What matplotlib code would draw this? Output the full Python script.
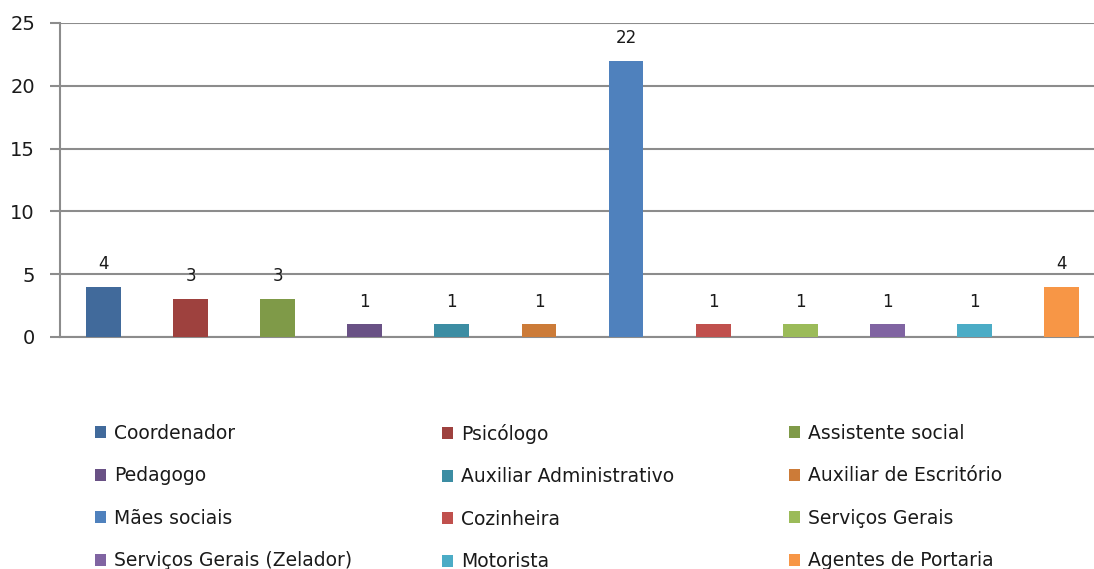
import matplotlib.pyplot as plt
from matplotlib.patches import Patch

# data
categories = ['Coordenador', 'Psicólogo', 'Assistente social', 'Pedagogo',
              'Auxiliar Administrativo', 'Auxiliar de Escritório', 'Mães sociais',
              'Cozinheira', 'Serviços Gerais', 'Serviços Gerais (Zelador)',
              'Motorista', 'Agentes de Portaria']
values = [4, 3, 3, 1, 1, 1, 22, 1, 1, 1, 1, 4]
colors = ['#416A9B', '#9E413E', '#7F9A48', '#695185', '#3C8DA3', '#CC7B38',
          '#4F81BD', '#C0504D', '#9BBB59', '#8064A2', '#4BACC6', '#F79646']
yticks = [0, 5, 10, 15, 20, 25]

plt.rcParams['font.family'] = ['DejaVu Sans']
txt = '#1a1a1a'
grid = '#8c8c8c'

fig = plt.figure(figsize=(10.94, 5.69), dpi=100)
ax = fig.add_axes([60 / 1094, 1 - 337 / 569, 1045 / 1094, 314 / 569])

x = list(range(len(values)))
ax.bar(x, values, width=0.4, color=colors, zorder=3)
for xi, v in zip(x, values):
    ax.annotate(str(v), (xi, v), xytext=(0, 10), textcoords='offset points',
                ha='center', va='bottom', fontsize=12, color=txt)

ax.set_ylim(0, 25)
ax.set_xlim(-0.5, 11.5)
ax.set_yticks(yticks)
ax.set_xticks([])
ax.grid(axis='y', color=grid, linewidth=1.5, zorder=0)
for s in ['top', 'right']:
    ax.spines[s].set_visible(False)
ax.spines['left'].set_color(grid)
ax.spines['left'].set_linewidth(1.5)
ax.spines['bottom'].set_color(grid)
ax.spines['bottom'].set_linewidth(1.5)
ax.tick_params(axis='y', colors=grid, labelcolor=txt, labelsize=14,
               length=7, width=1.5, pad=11)

# legend: three columns, each a separate legend, filled row by row
handles = [Patch(facecolor=c, label=l) for c, l in zip(colors, categories)]
col_x = [95, 442, 789]
for k, cx in enumerate(col_x):
    idx = list(range(k, len(categories), 3))
    fig.legend([handles[i] for i in idx], [categories[i] for i in idx],
               loc='upper left', bbox_to_anchor=(cx / 1094, 1 - 424 / 569),
               frameon=False, fontsize=13.5, labelcolor=txt,
               handlelength=0.6, handleheight=0.6, handletextpad=0.4,
               labelspacing=1.25, borderpad=0, borderaxespad=0)

fig.savefig('out.png', dpi=100)
